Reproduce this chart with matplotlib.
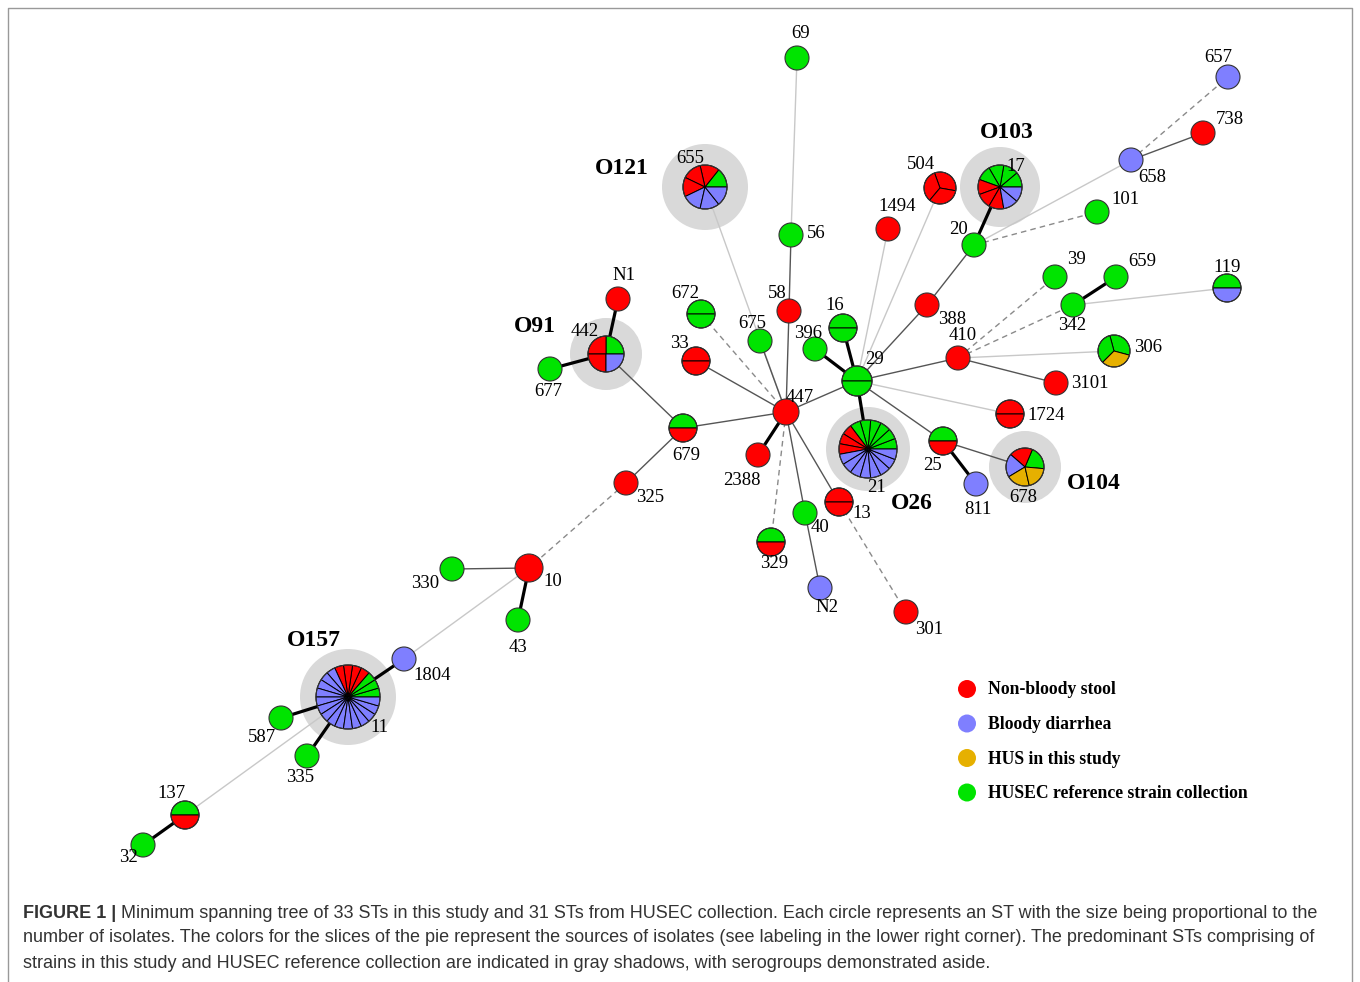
import numpy as np
import matplotlib.pyplot as plt
from matplotlib.patches import Wedge, Circle

# Tamaño de la figura en pixeles
W, H = 1360, 982

# Nodos (ST): posicion en el arbol, radio y numero de aislados por fuente
# conteos en orden: HUSEC (verde), no sanguinolenta (rojo), sanguinolenta (azul), HUS (oro)
node_ids = ['69', '657', '738', '658', '655', '17', '504', '1494', '101', '20',
            '56', 'N1', '672', '58', '388', '39', '659', '342', '119', '16',
            '675', '396', '442', '33', '306', '29', '410', '3101', '677', '447',
            '1724', '679', '21', '25', '2388', '678', '811', '13', '325', '40',
            '329', '10', '330', 'N2', '301', '43', '1804', '11', '587', '335',
            '137', '32']
node_x = [797, 1228, 1203, 1131, 705, 1000, 940, 888, 1097, 974,
          791, 618, 701, 789, 927, 1055, 1116, 1073, 1227, 843,
          760, 815, 606, 696, 1114, 857, 958, 1056, 550, 786,
          1010, 683, 868, 943, 758, 1025, 976, 839, 626, 805,
          771, 529, 452, 820, 906, 518, 404, 348, 281, 307,
          185, 143]
node_y = [58, 77, 133, 160, 187, 187, 188, 229, 212, 245,
          235, 299, 314, 311, 305, 277, 277, 305, 288, 328,
          341, 349, 354, 361, 351, 381, 358, 383, 369, 412,
          414, 428, 449, 441, 455, 467, 484, 502, 483, 513,
          542, 568, 569, 588, 612, 620, 659, 697, 718, 756,
          815, 845]
node_counts = [(1, 0, 0, 0), (0, 0, 1, 0), (0, 1, 0, 0), (0, 0, 1, 0), (1, 3, 3, 0),
               (4, 3, 2, 0), (0, 3, 0, 0), (0, 1, 0, 0), (1, 0, 0, 0), (1, 0, 0, 0),
               (1, 0, 0, 0), (0, 1, 0, 0), (2, 0, 0, 0), (0, 1, 0, 0), (0, 1, 0, 0),
               (1, 0, 0, 0), (1, 0, 0, 0), (1, 0, 0, 0), (1, 0, 1, 0), (2, 0, 0, 0),
               (1, 0, 0, 0), (1, 0, 0, 0), (1, 2, 1, 0), (0, 2, 0, 0), (2, 0, 0, 1),
               (2, 0, 0, 0), (0, 1, 0, 0), (0, 1, 0, 0), (1, 0, 0, 0), (0, 1, 0, 0),
               (0, 2, 0, 0), (1, 1, 0, 0), (6, 3, 8, 0), (1, 1, 0, 0), (0, 1, 0, 0),
               (1, 1, 1, 2), (0, 0, 1, 0), (0, 2, 0, 0), (0, 1, 0, 0), (1, 0, 0, 0),
               (1, 1, 0, 0), (0, 1, 0, 0), (1, 0, 0, 0), (0, 0, 1, 0), (0, 1, 0, 0),
               (1, 0, 0, 0), (0, 0, 1, 0), (3, 4, 15, 0), (1, 0, 0, 0), (1, 0, 0, 0),
               (1, 1, 0, 0), (1, 0, 0, 0)]

# Aristas del arbol: (origen, destino, tipo)
edges = [('69', '56', 'light'), ('56', '58', 'dark'), ('58', '447', 'dark'),
         ('655', '447', 'light'), ('672', '447', 'dash'), ('675', '447', 'dark'),
         ('33', '447', 'dark'), ('679', '447', 'dark'), ('447', '29', 'dark'),
         ('447', '2388', 'thick'), ('447', '329', 'dash'), ('447', '40', 'dark'),
         ('447', '13', 'dark'), ('40', 'N2', 'dark'), ('13', '301', 'dash'),
         ('29', '16', 'thick'), ('29', '396', 'thick'), ('29', '21', 'thick'),
         ('29', '1494', 'light'), ('29', '504', 'light'), ('29', '388', 'dark'),
         ('388', '20', 'dark'), ('20', '17', 'thick'), ('20', '101', 'dash'),
         ('20', '658', 'light'), ('658', '657', 'dash'), ('658', '738', 'dark'),
         ('29', '410', 'dark'), ('410', '39', 'dash'), ('410', '342', 'dash'),
         ('342', '659', 'thick'), ('342', '119', 'light'), ('410', '306', 'light'),
         ('410', '3101', 'dark'), ('29', '1724', 'light'), ('29', '25', 'dark'),
         ('25', '811', 'thick'), ('25', '678', 'dark'), ('679', '442', 'dark'),
         ('442', 'N1', 'thick'), ('442', '677', 'thick'), ('679', '325', 'dark'),
         ('325', '10', 'dash'), ('10', '330', 'dark'), ('10', '43', 'thick'),
         ('10', '1804', 'light'), ('1804', '11', 'thick'), ('11', '587', 'thick'),
         ('11', '335', 'thick'), ('11', '137', 'light'), ('137', '32', 'thick')]

# Serogrupos predominantes (sombra gris)
sero_nodes = ['655', '17', '442', '21', '678', '11']
sero_names = ['O121', 'O103', 'O91', 'O26', 'O104', 'O157']

legend_labels = ['Non-bloody stool', 'Bloody diarrhea', 'HUS in this study',
                 'HUSEC reference strain collection']

caption_bold = 'FIGURE 1 |'
caption_lines = [
    ' Minimum spanning tree of 33 STs in this study and 31 STs from HUSEC collection. '
    'Each circle represents an ST with the size being proportional to the',
    'number of isolates. The colors for the slices of the pie represent the sources of '
    'isolates (see labeling in the lower right corner). The predominant STs comprising of',
    'strains in this study and HUSEC reference collection are indicated in gray shadows, '
    'with serogroups demonstrated aside.']

# ---- estilos y posiciones de dibujo ----
GREEN, RED, BLUE, GOLD = '#00e400', '#ff0000', '#7f7fff', '#e6b000'
slice_colors = [GREEN, RED, BLUE, GOLD]
legend_colors = [RED, BLUE, GOLD, GREEN]
edge_style = {'thick': dict(color='black', lw=2.3, ls='-'),
              'dark': dict(color='#555555', lw=1.0, ls='-'),
              'light': dict(color='#c8c8c8', lw=1.0, ls='-'),
              'dash': dict(color='#8a8a8a', lw=1.0, ls=(0, (4, 3)))}

sizes = {'655': 22, '17': 22, '504': 16, '672': 14, '119': 14, '16': 14, '442': 18,
         '33': 14, '306': 16, '29': 15, '447': 13, '1724': 14, '679': 14, '21': 29,
         '25': 14, '678': 19, '13': 14, '329': 14, '10': 14, '11': 32, '137': 14}
start_angle = {'504': -10, '306': -15, '678': -5}
label_off = {'69': (4, -25), '657': (-10, -20), '738': (27, -14), '658': (21, 17),
             '655': (-15, -29), '17': (16, -21), '504': (-19, -24), '1494': (9, -23),
             '101': (28, -13), '20': (-16, -16), '56': (25, -2), 'N1': (6, -23),
             '672': (-16, -20), '58': (-12, -18), '388': (25, 14), '39': (21, -17),
             '659': (26, -16), '342': (-1, 21), '119': (0, -21), '16': (-8, -23),
             '675': (-8, -18), '396': (-7, -16), '442': (-21, -22), '33': (-17, -18),
             '306': (34, -3), '29': (17, -22), '410': (5, -22), '3101': (34, 1),
             '677': (-2, 23), '447': (14, -15), '1724': (36, 1), '679': (3, 27),
             '21': (8, 38), '25': (-10, 24), '2388': (-16, 25), '678': (-2, 30),
             '811': (2, 26), '13': (23, 11), '325': (24, 14), '40': (15, 15),
             '329': (3, 21), '10': (24, 13), '330': (-27, 14), 'N2': (7, 20),
             '301': (23, 17), '43': (0, 27), '1804': (28, 16), '11': (31, 30),
             '587': (-19, 19), '335': (-7, 22), '137': (-14, -22), '32': (-15, 13)}
shadow_r = [43, 40, 36, 42, 36, 48]
sero_off = [(-83, -19), (7, -55), (-71, -28), (44, 54), (69, 16), (-34, -57)]

pos = {n: (x, y) for n, x, y in zip(node_ids, node_x, node_y)}

plt.rcParams['font.family'] = ['Liberation Serif', 'DejaVu Serif']
fig = plt.figure(figsize=(W / 100, H / 100), dpi=100)
ax = fig.add_axes([0, 0, 1, 1])
ax.set_xlim(0, W)
ax.set_ylim(H, 0)
ax.axis('off')

# Marco
ax.plot([8, 8, 1352, 1352], [H + 5, 8, 8, H + 5], color='#999999', lw=1.0, zorder=0)

# Sombras de los serogrupos
for n, name, r, (dx, dy) in zip(sero_nodes, sero_names, shadow_r, sero_off):
    x, y = pos[n]
    ax.add_patch(Circle((x, y), r, color='#d9d9d9', lw=0, zorder=0.5))
    ax.text(x + dx, y + dy, name, fontsize=17, fontweight='bold',
            ha='center', va='center', zorder=5)

# Aristas
for a, b, kind in edges:
    (x1, y1), (x2, y2) = pos[a], pos[b]
    ax.plot([x1, x2], [y1, y2], zorder=1, solid_capstyle='butt', **edge_style[kind])

# Nodos como graficos de pastel (eje y invertido: angulos negativos)
for n, counts in zip(node_ids, node_counts):
    x, y = pos[n]
    r = sizes.get(n, 12)
    total = sum(counts)
    if total == 1:
        c = slice_colors[[i for i, v in enumerate(counts) if v][0]]
        ax.add_patch(Circle((x, y), r, facecolor=c, edgecolor='#333333', lw=0.8, zorder=3))
    else:
        step = 360.0 / total
        a0 = start_angle.get(n, 0)
        k = 0
        for ci, cnt in enumerate(counts):
            for _ in range(cnt):
                t1 = a0 + k * step
                t2 = t1 + step
                ax.add_patch(Wedge((x, y), r, -t2, -t1, facecolor=slice_colors[ci],
                                   edgecolor='black', lw=0.7, zorder=3))
                k += 1
        ax.add_patch(Circle((x, y), r, fill=False, edgecolor='#333333', lw=0.8, zorder=3.5))
    dx, dy = label_off[n]
    ax.text(x + dx, y + dy, n, fontsize=13.5, ha='center', va='center', zorder=5)

# Leyenda
for i, (lab, col) in enumerate(zip(legend_labels, legend_colors)):
    yy = 689 + i * 34.5
    ax.add_patch(Circle((967, yy), 9, color=col, lw=0, zorder=3))
    ax.text(988, yy + 1, lab, fontsize=12.7, fontweight='bold', ha='left', va='center')

# Pie de figura
cap_font = ['Liberation Sans']
cap_size = 13
t = ax.text(23, 913, caption_bold, fontsize=cap_size, fontweight='bold', family=cap_font,
            color='#333333', ha='left', va='center')
fig.canvas.draw()
bb = t.get_window_extent(fig.canvas.get_renderer())
ax.text(23 + bb.width, 913, caption_lines[0], fontsize=cap_size, family=cap_font,
        color='#333333', ha='left', va='center')
ax.text(23, 938, caption_lines[1], fontsize=cap_size, family=cap_font,
        color='#333333', ha='left', va='center')
ax.text(23, 963, caption_lines[2], fontsize=cap_size, family=cap_font,
        color='#333333', ha='left', va='center')

fig.savefig('out.png', dpi=100)
